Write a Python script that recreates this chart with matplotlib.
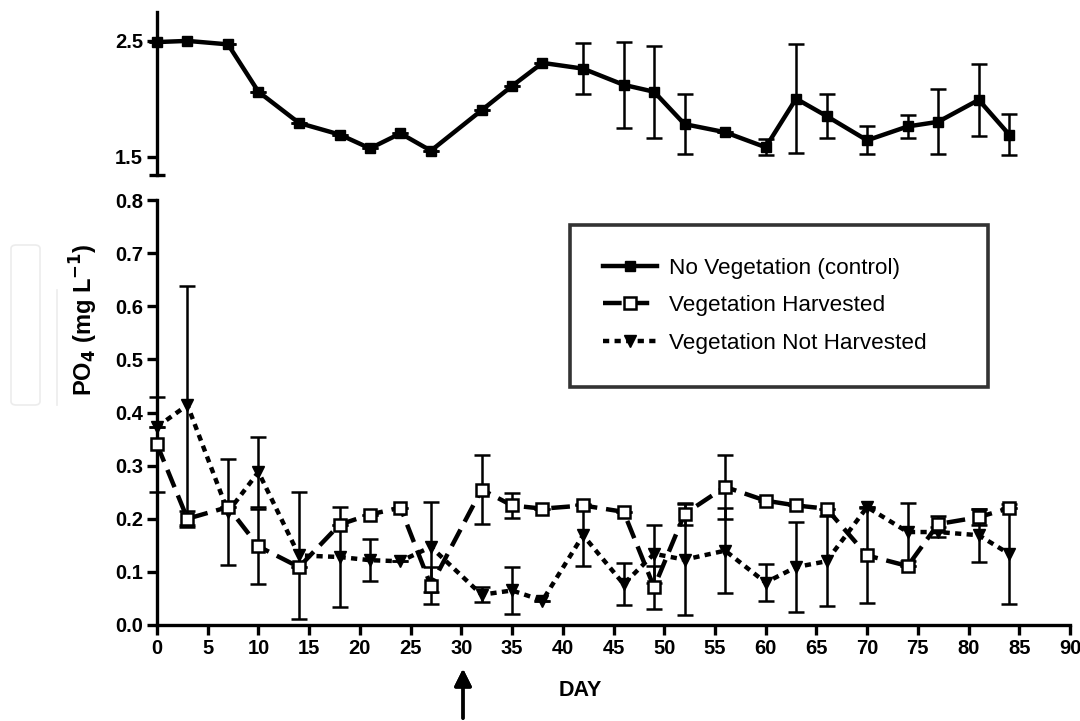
import matplotlib
matplotlib.use('Agg')
import matplotlib.pyplot as plt
from matplotlib.patches import FancyBboxPatch
from matplotlib.lines import Line2D

plt.rcParams['font.family'] = ['Liberation Sans', 'DejaVu Sans']

# sampling days
days = [0, 3, 7, 10, 14, 18, 21, 24, 27, 32, 35, 38, 42, 46, 49, 52,
        56, 60, 63, 66, 70, 74, 77, 81, 84]

# No Vegetation (control)
control = [2.49, 2.50, 2.47, 2.06, 1.79, 1.69, 1.57, 1.70, 1.55, 1.90, 2.11, 2.31,
           2.26, 2.12, 2.06, 1.78, 1.71, 1.58, 2.00, 1.85, 1.64, 1.76, 1.80, 1.99, 1.69]
control_sd = [0, 0, 0, 0, 0, 0, 0, 0, 0, 0, 0, 0,
              0.22, 0.37, 0.40, 0.26, 0, 0.07, 0.47, 0.19, 0.12, 0.10, 0.28, 0.31, 0.18]

# Vegetation Harvested
harvested = [0.34, 0.20, 0.222, 0.148, 0.109, 0.189, 0.208, 0.221, 0.074, 0.255, 0.225, 0.219,
             0.225, 0.213, 0.071, 0.209, 0.26, 0.234, 0.225, 0.219, 0.131, 0.111, 0.19, 0.203, 0.22]
harvested_sd = [0.09, 0.015, 0, 0.07, 0, 0, 0, 0, 0.035, 0.065, 0.024, 0,
                0, 0, 0.04, 0.02, 0.06, 0, 0, 0, 0.09, 0, 0.015, 0.015, 0]

# Vegetation Not Harvested
not_harvested = [0.373, 0.414, 0.213, 0.288, 0.131, 0.128, 0.122, 0.12, 0.147, 0.057, 0.065, 0.046,
                 0.169, 0.077, 0.134, 0.123, 0.14, 0.08, 0.109, 0.12, 0.222, 0.175, 0.175, 0.169, 0.134]
not_harvested_sd = [0, 0.225, 0.1, 0.065, 0.12, 0.095, 0.04, 0, 0.085, 0.014, 0.045, 0,
                    0.058, 0.04, 0.055, 0.105, 0.08, 0.035, 0.085, 0.085, 0, 0.055, 0.01, 0.05, 0.094]

xticks = list(range(0, 91, 5))
labels = ['No Vegetation (control)', 'Vegetation Harvested', 'Vegetation Not Harvested']

W, H = 1080, 721
fig = plt.figure(figsize=(W / 100, H / 100), dpi=100)

def fx(px):
    return px / W

def fy(py):
    return 1 - py / H

left, right = fx(157), fx(1070)
ax_top = fig.add_axes([left, fy(175), right - left, fy(12) - fy(175)])
ax_bot = fig.add_axes([left, fy(625), right - left, fy(200) - fy(625)])

spine_w = 2.4
err_kw = dict(ecolor='black', elinewidth=1.8, capsize=5.5, capthick=1.8)
dash_h = (0, (4.2, 2.0))
dash_nh = (0, (1.4, 1.2))

# top panel: control
ax_top.errorbar(days, control, yerr=control_sd, color='black', lw=3.2, marker='s',
                ms=7.5, mfc='black', mec='black', clip_on=False, zorder=3, **err_kw)
ax_top.set_xlim(0, 90)
ax_top.set_ylim(1.34, 2.75)
ax_top.set_yticks([1.5, 2.5])
ax_top.set_yticklabels(['1.5', '2.5'])
ax_top.set_yticks([1.34], minor=True)
ax_top.tick_params(axis='y', which='minor', direction='inout', length=12, width=spine_w)
for s in ['top', 'right', 'bottom']:
    ax_top.spines[s].set_visible(False)
ax_top.spines['left'].set_linewidth(spine_w)
ax_top.set_xticks([])
ax_top.patch.set_alpha(0)

# bottom panel
ax_bot.errorbar(days, harvested, yerr=harvested_sd, color='black', lw=3.2,
                ls=dash_h, marker='s', ms=9, mfc='white', mec='black', mew=1.8,
                clip_on=False, zorder=4, **err_kw)
ax_bot.errorbar(days, not_harvested, yerr=not_harvested_sd, color='black', lw=3.2,
                ls=dash_nh, marker='v', ms=8, mfc='black', mec='black',
                clip_on=False, zorder=3, **err_kw)
ax_bot.set_xlim(0, 90)
ax_bot.set_ylim(0, 0.8)
ax_bot.set_xticks(xticks)
ax_bot.set_yticks([0.0, 0.1, 0.2, 0.3, 0.4, 0.5, 0.6, 0.7, 0.8])
ax_bot.set_yticklabels(['0.0', '0.1', '0.2', '0.3', '0.4', '0.5', '0.6', '0.7', '0.8'])
for s in ['top', 'right']:
    ax_bot.spines[s].set_visible(False)
for s in ['left', 'bottom']:
    ax_bot.spines[s].set_linewidth(spine_w)
ax_bot.patch.set_alpha(0)

for ax in (ax_top, ax_bot):
    ax.tick_params(axis='both', which='major', direction='out', length=7, width=spine_w,
                   labelsize=14.5, pad=3)
    for t in ax.get_xticklabels() + ax.get_yticklabels():
        t.set_fontweight('bold')

ax_bot.set_xlabel('DAY', fontsize=15.5, fontweight='bold')
ax_bot.xaxis.set_label_coords((580 - 157) / 913, (625 - 680) / 425)
fig.text(fx(84), fy(320), r'PO$_\mathbf{4}$ (mg L$^\mathbf{-1}$)', rotation=90,
         ha='center', va='center', fontsize=17, fontweight='bold')

# legend
handles = [
    Line2D([], [], color='black', lw=3.2, marker='s', ms=7.5, mfc='black'),
    Line2D([], [], color='black', lw=3.2, ls=dash_h, marker='s', ms=9,
           mfc='white', mew=1.8),
    Line2D([], [], color='black', lw=3.2, ls=dash_nh, marker='v', ms=8, mfc='black'),
]
leg = ax_bot.legend(handles, labels, loc='upper left',
                    bbox_to_anchor=(fx(570), fy(385), fx(988) - fx(570), fy(225) - fy(385)),
                    bbox_transform=fig.transFigure, mode='expand', fontsize=16.2,
                    frameon=True, fancybox=False, borderpad=1.45, labelspacing=0.74,
                    handlelength=2.4, handletextpad=0.55, borderaxespad=0)
leg.get_frame().set_edgecolor('black')
leg.get_frame().set_linewidth(2.6)

# arrow under the x axis
fig.add_artist(plt.annotate('', xy=(fx(463), fy(666)), xytext=(fx(463), fy(721)),
                            xycoords='figure fraction', textcoords='figure fraction',
                            arrowprops=dict(arrowstyle='-|>', lw=2.4, color='black',
                                            mutation_scale=26)))

# faint scan artefacts at left
fig.add_artist(FancyBboxPatch((fx(11), fy(405)), fx(40) - fx(11), fy(245) - fy(405),
                              boxstyle='round,pad=0,rounding_size=0.005',
                              transform=fig.transFigure, fill=False, ec='#ececec', lw=1.2))
fig.add_artist(Line2D([fx(57), fx(57)], [fy(405), fy(290)], transform=fig.transFigure,
                      color='#ececec', lw=1.2))

fig.savefig('out.png', dpi=100)
